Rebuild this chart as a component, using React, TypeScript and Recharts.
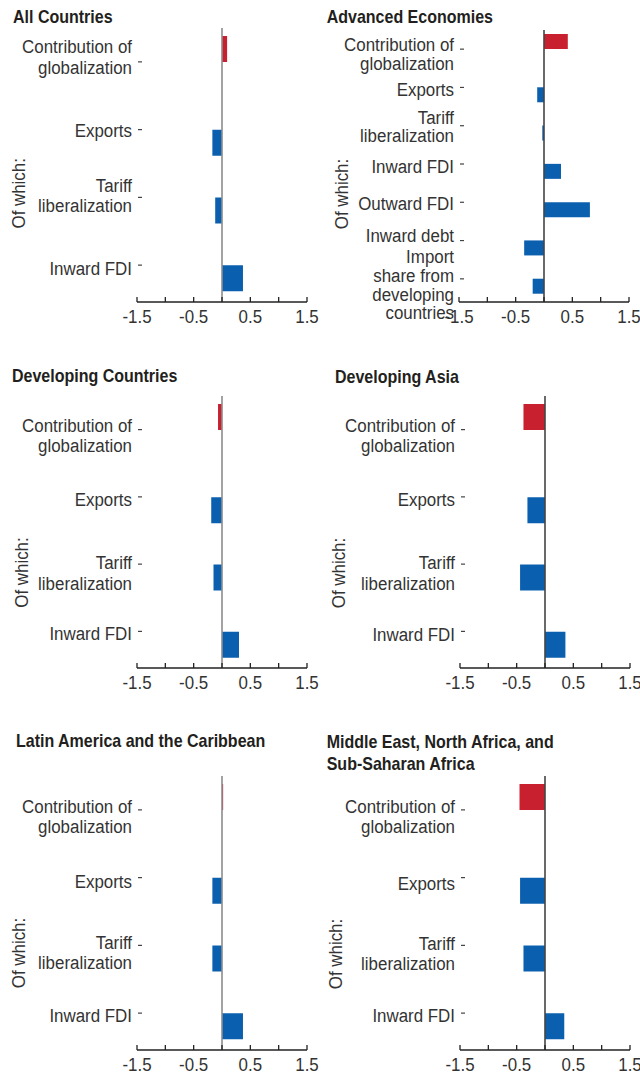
import { BarChart, Bar, XAxis, YAxis, ReferenceLine } from 'recharts'

const FONT = "'Liberation Sans', Arial, sans-serif"
const SQUEEZE = 0.89 // horizontal squeeze to get a condensed face
const RED = '#c8202f'
const BLUE = '#0a5fae'
const TEXT = '#333333'

// categories
const baseCategories = ['Contribution of\nglobalization', 'Exports', 'Tariff\nliberalization', 'Inward FDI']
const advancedCategories = [
  'Contribution of\nglobalization',
  'Exports',
  'Tariff\nliberalization',
  'Inward FDI',
  'Outward FDI',
  'Inward debt',
  'Import\nshare from\ndeveloping\ncountries',
]

const xTicks = [-1.5, -1, -0.5, 0, 0.5, 1, 1.5]
const xTickLabels = [-1.5, -0.5, 0.5, 1.5]

// values (contribution of globalization, then "of which" parts)
const allCountriesTotal = 0.09
const allCountriesParts = [-0.17, -0.12, 0.37]
const advancedTotal = 0.42
const advancedParts = [-0.12, -0.03, 0.3, 0.81, -0.35, -0.2]
const developingTotal = -0.07
const developingParts = [-0.19, -0.15, 0.3]
const devAsiaTotal = -0.38
const devAsiaParts = [-0.31, -0.44, 0.36]
const latAmTotal = 0.02
const latAmParts = [-0.17, -0.17, 0.37]
const menaTotal = -0.45
const menaParts = [-0.44, -0.38, 0.34]

interface Row {
  name: string
  contribution: number | null
  component: number | null
}

function buildRows(categories: string[], total: number, parts: number[]): Row[] {
  return categories.map((name, i) => ({
    name,
    contribution: i === 0 ? total : null,
    component: i === 0 ? null : parts[i - 1],
  }))
}

function NarrowText(props: {
  x: number
  y: number
  size: number
  anchor?: 'start' | 'middle' | 'end'
  bold?: boolean
  rotate?: number
  fill?: string
  children: string
}) {
  const { x, y, size, anchor = 'start', bold, rotate = 0, fill = TEXT, children } = props
  return (
    <text
      transform={`translate(${x} ${y}) rotate(${rotate}) scale(${SQUEEZE} 1)`}
      textAnchor={anchor}
      fontSize={size}
      fontWeight={bold ? 'bold' : 'normal'}
      fontFamily={FONT}
      fill={fill}
    >
      {children}
    </text>
  )
}

function makeYTick(lineHeight: number, nudges: number[]) {
  return function YTick(props: any) {
    const { x, y, payload, index } = props
    const lines: string[] = String(payload.value).split('\n')
    const first = y - ((lines.length - 1) * lineHeight) / 2 + 7.5 + (nudges[index] ?? 0)
    return (
      <g>
        <line x1={x + 1} x2={x + 5} y1={y} y2={y} stroke="#444" strokeWidth={1.2} />
        {lines.map((l, i) => (
          <NarrowText key={i} x={x - 5} y={first + i * lineHeight} size={19} anchor="end">
            {l}
          </NarrowText>
        ))}
      </g>
    )
  }
}

function XTick(props: any) {
  const { x, y, payload } = props
  const v = payload.value as number
  return (
    <g>
      <line x1={x} x2={x} y1={y} y2={y - 5} stroke="#222" strokeWidth={1.3} />
      {xTickLabels.includes(v) && (
        <NarrowText x={x} y={y + 21} size={19} anchor="middle">
          {String(v)}
        </NarrowText>
      )}
    </g>
  )
}

interface PanelProps {
  rows: Row[]
  left: number
  top: number
  plotTop: number
  axisY: number
  yWidth: number
  right: number
  barSize: number
  padBottom: number
  lineHeight: number
  nudges: number[]
  zeroColor: string
}

function Panel(p: PanelProps) {
  const YTick = makeYTick(p.lineHeight, p.nudges)
  return (
    <div style={{ position: 'absolute', left: p.left, top: p.top }}>
      <BarChart
        layout="vertical"
        width={320}
        height={p.axisY - p.top + 30}
        data={p.rows}
        margin={{ top: p.plotTop - p.top, right: p.right, bottom: 0, left: 0 }}
        barGap={0}
      >
        <XAxis
          type="number"
          domain={[-1.5, 1.5]}
          ticks={xTicks}
          height={30}
          tickLine={false}
          tickSize={0}
          tickMargin={0}
          axisLine={{ stroke: '#222', strokeWidth: 1.6 }}
          tick={<XTick />}
          interval={0}
        />
        <YAxis
          type="category"
          dataKey="name"
          width={p.yWidth}
          axisLine={false}
          tickLine={false}
          tickSize={0}
          tickMargin={0}
          tick={<YTick />}
          interval={0}
          padding={{ top: 0, bottom: p.padBottom }}
        />
        <Bar dataKey="contribution" fill={RED} barSize={p.barSize} isAnimationActive={false} />
        <Bar dataKey="component" fill={BLUE} barSize={p.barSize} isAnimationActive={false} />
        <ReferenceLine x={0} stroke={p.zeroColor} strokeWidth={1.6} />
      </BarChart>
    </div>
  )
}

const titles = [
  { lines: ['All Countries'], x: 13, y: 22.7 },
  { lines: ['Advanced Economies'], x: 326.7, y: 22.7 },
  { lines: ['Developing Countries'], x: 12, y: 381.7 },
  { lines: ['Developing Asia'], x: 335, y: 382.5 },
  { lines: ['Latin America and the Caribbean'], x: 16, y: 747.3 },
  { lines: ['Middle East, North Africa, and', 'Sub-Saharan Africa'], x: 326.7, y: 747.5 },
]

const ofWhich = [
  { x: 25, y: 193.3 },
  { x: 348, y: 194 },
  { x: 28, y: 572.5 },
  { x: 345, y: 573 },
  { x: 25, y: 953 },
  { x: 342, y: 954 },
]

export default function App() {
  const LEFT_ZERO = '#8c8c8c'
  const RIGHT_ZERO = '#444444'
  return (
    <div style={{ position: 'absolute', left: 0, top: 0, width: 640, height: 1076, background: '#fff' }}>
      <style>{'.recharts-surface{overflow:visible}'}</style>
      <Panel
        rows={buildRows(baseCategories, allCountriesTotal, allCountriesParts)}
        left={0} top={0} plotTop={28} axisY={302} yWidth={137} right={13}
        barSize={26} padBottom={3} lineHeight={20.5} nudges={[-5.7, 0.3, -3.1, 2.3]}
        zeroColor={LEFT_ZERO}
      />
      <Panel
        rows={buildRows(advancedCategories, advancedTotal, advancedParts)}
        left={320} top={0} plotTop={30} axisY={302} yWidth={139} right={11}
        barSize={15} padBottom={4} lineHeight={18.7} nudges={[3.7, 1.1, -0.1, 1.6, 0, -5.6, 4.8]}
        zeroColor={RIGHT_ZERO}
      />
      <Panel
        rows={buildRows(baseCategories, developingTotal, developingParts)}
        left={0} top={360} plotTop={396} axisY={668} yWidth={137} right={13}
        barSize={26} padBottom={3} lineHeight={20.5} nudges={[4.7, 1.9, 8, 1.3]}
        zeroColor={LEFT_ZERO}
      />
      <Panel
        rows={buildRows(baseCategories, devAsiaTotal, devAsiaParts)}
        left={320} top={360} plotTop={396} axisY={668} yWidth={140} right={10}
        barSize={26} padBottom={3} lineHeight={20.5} nudges={[4.7, 1.9, 8, 2.3]}
        zeroColor={RIGHT_ZERO}
      />
      <Panel
        rows={buildRows(baseCategories, latAmTotal, latAmParts)}
        left={0} top={720} plotTop={776} axisY={1050} yWidth={137} right={13}
        barSize={26} padBottom={3} lineHeight={20.5} nudges={[5.7, 3, 6, 1.7]}
        zeroColor={LEFT_ZERO}
      />
      <Panel
        rows={buildRows(baseCategories, menaTotal, menaParts)}
        left={320} top={720} plotTop={776} axisY={1050} yWidth={140} right={10}
        barSize={26} padBottom={3} lineHeight={20.5} nudges={[5.7, 4.7, 6.9, 0.9]}
        zeroColor={RIGHT_ZERO}
      />
      <svg
        width={640}
        height={1076}
        style={{ position: 'absolute', left: 0, top: 0, pointerEvents: 'none' }}
      >
        {titles.map((t, i) =>
          t.lines.map((l, j) => (
            <NarrowText key={`${i}-${j}`} x={t.x} y={t.y + j * 22} size={18} bold fill="#231f20">
              {l}
            </NarrowText>
          ))
        )}
        {ofWhich.map((o, i) => (
          <NarrowText key={i} x={o.x} y={o.y} size={19} anchor="middle" rotate={-90}>
            Of which:
          </NarrowText>
        ))}
      </svg>
    </div>
  )
}
